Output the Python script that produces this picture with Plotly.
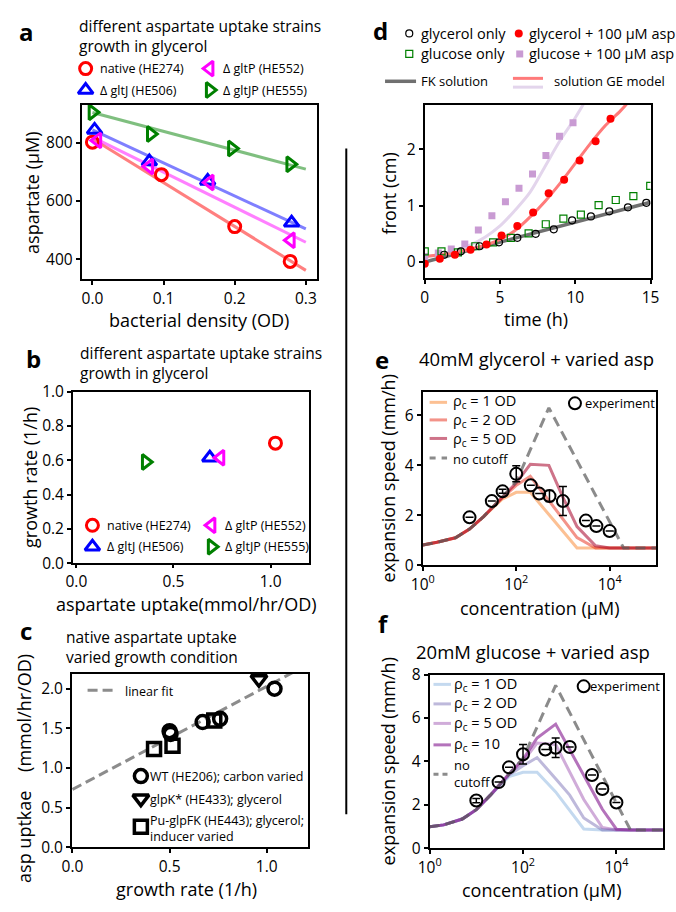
import plotly.graph_objects as go

W, H = 676, 912
FONT = "Open Sans"

# ---------------- panel a : aspartate vs OD ----------------
a_od_native = [0.0, 0.097, 0.200, 0.278]
a_asp_native = [803, 691, 512, 392]
a_od_gltJ = [0.003, 0.080, 0.162, 0.280]
a_asp_gltJ = [845, 736, 669, 525]
a_od_gltP = [0.007, 0.080, 0.165, 0.279]
a_asp_gltP = [809, 719, 664, 465]
a_od_gltJP = [0.0, 0.082, 0.196, 0.278]
a_asp_gltJP = [906, 831, 781, 727]
a_fit_od = [0.0, 0.3]
a_fit_native = [815, 361]
a_fit_gltJ = [845, 504]
a_fit_gltP = [820, 458]
a_fit_gltJP = [905, 710]

# ---------------- panel b : growth vs uptake ----------------
b_strains = ["native (HE274)", "Δ gltJ (HE506)", "Δ gltP (HE552)", "Δ gltJP (HE555)"]
b_uptake = [1.025, 0.687, 0.742, 0.357]
b_growth = [0.700, 0.615, 0.615, 0.590]

# ---------------- panel c : uptake vs growth rate ----------------
c_wt_mu = [0.50, 0.505, 0.67, 0.76, 1.04]
c_wt_up = [1.465, 1.43, 1.58, 1.62, 2.00]
c_glpk_mu = [0.96]
c_glpk_up = [2.12]
c_pu_mu = [0.42, 0.515, 0.73]
c_pu_up = [1.24, 1.28, 1.60]
c_fit_mu = [0.0, 1.25]
c_fit_up = [0.73, 2.355]

# ---------------- panel d : front vs time ----------------
d_gly_t = [1.29, 2.4, 3.64, 4.93, 6.15, 7.37, 8.57, 9.79, 11.04, 12.26, 13.5, 14.72]
d_gly_f = [0.13, 0.19, 0.28, 0.35, 0.43, 0.50, 0.58, 0.74, 0.81, 0.90, 0.97, 1.05]
d_glu_t = [0.0, 1.11, 2.2, 3.36, 4.54, 5.72, 6.9, 8.04, 9.21, 10.37, 11.55, 12.69, 13.86, 14.98]
d_glu_f = [0.19, 0.19, 0.17, 0.28, 0.35, 0.43, 0.51, 0.67, 0.77, 0.84, 1.01, 1.10, 1.17, 1.35]
d_glya_t = [0.0, 1.0, 2.0, 3.04, 4.1, 5.1, 6.15, 7.2, 8.23, 9.26, 10.29, 11.35, 12.34]
d_glya_f = [-0.03, 0.06, 0.13, 0.22, 0.31, 0.47, 0.64, 0.88, 1.22, 1.46, 1.80, 2.14, 2.54]
d_glua_t = [0.0, 0.9, 1.76, 2.66, 3.56, 4.46, 5.36, 6.26, 7.16, 8.05, 8.95, 9.85]
d_glua_f = [0.10, 0.16, 0.23, 0.32, 0.57, 0.82, 1.07, 1.31, 1.56, 1.89, 2.23, 2.47]
d_fk_t = [0, 5, 10, 15]
d_fk_f = [0.0, 0.35, 0.70, 1.06]
d_ge_gly_t = [0, 1, 2, 3, 4, 5, 6, 7, 8, 9, 10, 11, 12, 13, 13.6]
d_ge_gly_f = [0.10, 0.13, 0.17, 0.23, 0.30, 0.40, 0.56, 0.80, 1.08, 1.40, 1.75, 2.10, 2.42, 2.68, 2.86]
d_ge_glu_t = [0, 1, 2, 3, 4, 5, 6, 7, 8, 9, 10, 10.8]
d_ge_glu_f = [0.10, 0.13, 0.20, 0.30, 0.44, 0.64, 0.92, 1.24, 1.70, 2.16, 2.56, 2.92]

# ---------------- panel e : 40mM glycerol ----------------
e_conc = [1, 2, 5, 10, 20, 50, 100, 200, 500, 1000, 2000, 5000, 10000, 20000, 50000, 100000]
e_none = [0.81, 0.92, 1.10, 1.45, 1.95, 2.72, 3.35, 4.6, 6.3, 5.25, 4.2, 2.8, 1.75, 0.69, 0.69, 0.69]
e_rho1 = [0.81, 0.92, 1.10, 1.45, 1.95, 2.65, 2.92, 2.92, 2.03, 1.38, 0.69, 0.69, 0.69, 0.69, 0.69, 0.69]
e_rho2 = [0.81, 0.92, 1.10, 1.45, 1.95, 2.70, 3.20, 3.56, 2.59, 1.85, 1.11, 0.69, 0.69, 0.69, 0.69, 0.69]
e_rho5 = [0.81, 0.92, 1.10, 1.45, 1.95, 2.72, 3.30, 4.04, 4.00, 2.72, 1.55, 0.78, 0.69, 0.69, 0.69, 0.69]
e_exp_c = [10, 30, 51, 100, 205, 310, 515, 1000, 3100, 5200, 10000]
e_exp_v = [1.92, 2.57, 2.96, 3.66, 3.20, 2.87, 2.77, 2.57, 1.79, 1.57, 1.37]
e_exp_err = [0, 0, 0.08, 0.32, 0, 0, 0.22, 0.58, 0, 0, 0]

# ---------------- panel f : 20mM glucose ----------------
f_conc = [1, 2, 5, 10, 20, 50, 100, 200, 500, 1000, 2000, 5000, 10000, 20000, 50000, 100000]
f_none = [0.99, 1.08, 1.35, 1.78, 2.45, 3.42, 4.15, 5.59, 7.5, 6.25, 5.0, 3.34, 2.09, 0.84, 0.84, 0.84]
f_rho1 = [0.99, 1.08, 1.35, 1.78, 2.45, 3.30, 3.50, 3.50, 2.60, 1.72, 0.89, 0.84, 0.84, 0.84, 0.84, 0.84]
f_rho2 = [0.99, 1.08, 1.35, 1.78, 2.45, 3.38, 3.80, 4.18, 3.20, 2.45, 1.40, 0.84, 0.84, 0.84, 0.84, 0.84]
f_rho5 = [0.99, 1.08, 1.35, 1.78, 2.45, 3.42, 4.00, 4.85, 4.78, 3.55, 2.25, 0.96, 0.84, 0.84, 0.84, 0.84]
f_rho10 = [0.99, 1.08, 1.35, 1.78, 2.45, 3.42, 4.10, 5.08, 5.72, 4.55, 3.35, 1.80, 0.88, 0.84, 0.84, 0.84]
f_exp_c = [10, 30, 50, 100, 300, 500, 1000, 3000, 5000, 10000]
f_exp_v = [2.20, 3.05, 3.73, 4.33, 4.55, 4.63, 4.67, 3.38, 2.73, 2.11]
f_exp_err = [0.1, 0, 0, 0.45, 0, 0.45, 0, 0, 0, 0]

fig = go.Figure()

TICK = 15.5
LEG = 12.5
AXT = 18


def dom(x0, x1, y0, y1):
    return [x0 / W, x1 / W], [1 - y1 / H, 1 - y0 / H]


def axis(domain, rng, anchor, **kw):
    d = dict(domain=domain, range=rng, anchor=anchor, showline=True, mirror=True,
             linecolor="black", linewidth=2, ticks="outside", ticklen=4, tickwidth=2,
             tickcolor="black", showgrid=False, zeroline=False,
             tickfont=dict(family=FONT, size=TICK, color="black"))
    d.update(kw)
    return d


def sc(n, x, y, **kw):
    xa = "x" if n == 1 else "x%d" % n
    ya = "y" if n == 1 else "y%d" % n
    fig.add_trace(go.Scatter(x=x, y=y, xaxis=xa, yaxis=ya, showlegend=False,
                             hoverinfo="skip", **kw))


def mk(symbol, color, size, lw, fill=None):
    return dict(symbol=symbol, size=size, color=fill if fill else color,
                line=dict(color=color, width=lw))


# ---- panel a
for fy, col in [(a_fit_native, "rgba(255,0,0,0.5)"), (a_fit_gltP, "rgba(255,0,255,0.5)"),
                (a_fit_gltJ, "rgba(0,0,255,0.5)"), (a_fit_gltJP, "rgba(0,128,0,0.5)")]:
    sc(1, a_fit_od, fy, mode="lines", line=dict(color=col, width=3))
sc(1, a_od_native, a_asp_native, mode="markers", marker=mk("circle-open", "red", 12, 3))
sc(1, a_od_gltJ, a_asp_gltJ, mode="markers", marker=mk("triangle-up-open", "blue", 13, 3))
sc(1, a_od_gltP, a_asp_gltP, mode="markers", marker=mk("triangle-left-open", "magenta", 13, 3))
sc(1, a_od_gltJP, a_asp_gltJP, mode="markers", marker=mk("triangle-right-open", "green", 13, 3))

# ---- panel b
b_symbols = ["circle-open", "triangle-up-open", "triangle-left-open", "triangle-right-open"]
b_colors = ["red", "blue", "magenta", "green"]
for i in range(4):
    sc(2, [b_uptake[i]], [b_growth[i]], mode="markers",
       marker=mk(b_symbols[i], b_colors[i], 12 if i == 0 else 13, 3))

# ---- panel c
sc(3, c_fit_mu, c_fit_up, mode="lines", line=dict(color="#8c8c8c", width=3, dash="10px,5px"))
sc(3, c_wt_mu, c_wt_up, mode="markers", marker=mk("circle-open", "black", 13, 3.5))
sc(3, c_glpk_mu, c_glpk_up, mode="markers", marker=mk("triangle-down-open", "black", 14, 3.5))
sc(3, c_pu_mu, c_pu_up, mode="markers", marker=mk("square-open", "black", 13, 3.5))

# ---- panel d
sc(4, d_fk_t, d_fk_f, mode="lines", line=dict(color="#707070", width=3.5))
sc(4, d_ge_glu_t, d_ge_glu_f, mode="lines", line=dict(color="#e3d5ec", width=3), line_shape="spline")
sc(4, d_ge_gly_t, d_ge_gly_f, mode="lines", line=dict(color="#ff7a7a", width=3), line_shape="spline")
sc(4, d_glua_t, d_glua_f, mode="markers", marker=mk("square", "#c99bd3", 7, 0))
sc(4, d_glu_t, d_glu_f, mode="markers", marker=mk("square-open", "green", 7, 1.2))
sc(4, d_gly_t, d_gly_f, mode="markers", marker=mk("circle-open", "black", 7, 1.2))
sc(4, d_glya_t, d_glya_f, mode="markers", marker=mk("circle", "red", 8, 0))

# ---- panel e
sc(5, e_conc, e_rho1, mode="lines", line=dict(color="rgba(250,130,40,0.5)", width=3))
sc(5, e_conc, e_rho2, mode="lines", line=dict(color="rgba(231,40,20,0.5)", width=3))
sc(5, e_conc, e_rho5, mode="lines", line=dict(color="rgba(165,0,40,0.55)", width=3))
sc(5, e_conc, e_none, mode="lines", line=dict(color="rgba(90,90,90,0.7)", width=3, dash="10px,6px"))
sc(5, e_exp_c, e_exp_v, mode="markers", marker=mk("circle-open", "black", 12, 2),
   error_y=dict(type="data", array=e_exp_err, visible=True, color="black", thickness=1.5, width=4))

# ---- panel f
sc(6, f_conc, f_rho1, mode="lines", line=dict(color="rgba(107,160,214,0.4)", width=3))
sc(6, f_conc, f_rho2, mode="lines", line=dict(color="rgba(110,100,175,0.45)", width=3))
sc(6, f_conc, f_rho5, mode="lines", line=dict(color="rgba(150,70,170,0.45)", width=3))
sc(6, f_conc, f_rho10, mode="lines", line=dict(color="rgba(140,40,150,0.65)", width=3))
sc(6, f_conc, f_none, mode="lines", line=dict(color="rgba(90,90,90,0.7)", width=3, dash="10px,6px"))
sc(6, f_exp_c, f_exp_v, mode="markers", marker=mk("circle-open", "black", 12, 2),
   error_y=dict(type="data", array=f_exp_err, visible=True, color="black", thickness=1.5, width=4))


# ---- legend glyphs on an invisible full-page overlay axis (pixel coords)
def glyph(x, y, marker):
    fig.add_trace(go.Scatter(x=[x], y=[y], xaxis="x7", yaxis="y7", mode="markers",
                             marker=marker, showlegend=False, hoverinfo="skip"))


def gline(x0, x1, y, color, width, dash=None):
    fig.add_trace(go.Scatter(x=[x0, x1], y=[y, y], xaxis="x7", yaxis="y7", mode="lines",
                             line=dict(color=color, width=width, dash=dash),
                             showlegend=False, hoverinfo="skip"))


def txt(x, y, s, size=LEG, xanchor="left", angle=0, bold=False):
    if bold:
        s = "<b>%s</b>" % s
    fig.add_annotation(x=x / W, y=1 - y / H, xref="paper", yref="paper", text=s,
                       showarrow=False, xanchor=xanchor, yanchor="middle", textangle=angle,
                       align="left" if xanchor == "left" else "center",
                       borderpad=0, borderwidth=0,
                       font=dict(family=FONT, size=size, color="black"))


# panel a legend
glyph(76, 58, mk("circle-open", "red", 12, 3)); txt(91, 58, b_strains[0])
glyph(204, 58, mk("triangle-left-open", "magenta", 13, 3)); txt(218, 58, b_strains[2])
glyph(76, 80, mk("triangle-up-open", "blue", 13, 3)); txt(91, 80, b_strains[1])
glyph(204, 80, mk("triangle-right-open", "green", 13, 3)); txt(218, 80, b_strains[3])
# panel b legend
glyph(83, 526, mk("circle-open", "red", 12, 3)); txt(98, 526, b_strains[0])
glyph(206, 526, mk("triangle-left-open", "magenta", 13, 3)); txt(220, 526, b_strains[2])
glyph(83, 548, mk("triangle-up-open", "blue", 13, 3)); txt(98, 548, b_strains[1])
glyph(206, 548, mk("triangle-right-open", "green", 13, 3)); txt(220, 548, b_strains[3])
# panel c legend
gline(78, 107, 695, "#8c8c8c", 3, "10px,5px"); txt(117, 696, "linear fit")
glyph(133, 783, mk("circle-open", "black", 13, 3.5)); txt(142, 783, "WT (HE206); carbon varied")
glyph(133, 806, mk("triangle-down-open", "black", 14, 3.5)); txt(142, 807, "glpK* (HE433); glycerol")
glyph(133, 835, mk("square-open", "black", 13, 3.5))
txt(142, 837, "Pu-glpFK (HE443); glycerol;<br>inducer varied")
# panel d legend
glyph(410, 22, mk("circle-open", "black", 7, 1.2)); txt(422, 22, "glycerol only", 14.5)
glyph(523, 22, mk("circle", "red", 8, 0)); txt(534, 22, "glycerol + 100 μM asp", 14.5)
glyph(410, 43, mk("square-open", "green", 7, 1.2)); txt(422, 43, "glucose only", 14.5)
glyph(524, 43, mk("square", "#c99bd3", 7, 0)); txt(534, 43, "glucose + 100 μM asp", 14.5)
gline(385, 417, 71, "#707070", 3.5); txt(422, 71, "FK solution", 13)
gline(517, 548, 68, "#ff7a7a", 3); gline(517, 548, 77, "#e3d5ec", 3); txt(559, 71, "solution GE model", 13)
# panel e legend
gline(431, 449, 400, "rgba(250,130,40,0.5)", 3)
gline(431, 449, 418, "rgba(231,40,20,0.5)", 3)
gline(431, 449, 437, "rgba(165,0,40,0.55)", 3)
txt(455, 419, "ρ<sub>c</sub> = 1 OD<br>ρ<sub>c</sub> = 2 OD<br>ρ<sub>c</sub> = 5 OD", 14.5)
gline(431, 449, 457, "rgba(90,90,90,0.7)", 3, "6px,6px"); txt(455, 458, "no cutoff", 13)
glyph(581, 401, mk("circle-open", "black", 12, 2)); txt(591, 401, "experiment", 13)
# panel f legend
gline(435, 453, 689, "rgba(107,160,214,0.4)", 3); txt(456, 689, "ρ<sub>c</sub> = 1 OD", 14.5)
gline(435, 453, 709, "rgba(110,100,175,0.45)", 3); txt(456, 709, "ρ<sub>c</sub> = 2 OD", 14.5)
gline(435, 453, 729, "rgba(150,70,170,0.45)", 3); txt(456, 729, "ρ<sub>c</sub> = 5 OD", 14.5)
gline(435, 453, 751, "rgba(140,40,150,0.65)", 3); txt(456, 751, "ρ<sub>c</sub> = 10", 14.5)
gline(435, 453, 781, "rgba(90,90,90,0.7)", 3, "5px,4px")
txt(456, 780, "no<br>cutoff", 13)
glyph(590, 691, mk("circle-open", "black", 12, 2)); txt(597, 691, "experiment", 13)

# ---- panel letters and titles
txt(15, 20, "a", 24, "center", bold=True)
txt(22, 355, "b", 24, "center", bold=True)
txt(14, 634, "c", 24, "center", bold=True)
txt(380, 19, "d", 24, "center", bold=True)
txt(382, 356, "e", 24, "center", bold=True)
txt(383, 627, "f", 24, "center", bold=True)

txt(69, 25, "different aspartate uptake strains<br>growth in glycerol", 15.5)
txt(70, 360, "different aspartate uptake strains<br>growth in glycerol", 15.5)
txt(56, 651, "native aspartate uptake<br>varied growth condition", 15.5)
txt(541, 355, "40mM glycerol + varied asp", 18.5, "center")
txt(538, 655, "20mM glucose + varied asp", 18.5, "center")

# ---- axis titles
txt(193, 316, "bacterial density (OD)", AXT, "center")
txt(20, 185, "aspartate (μM)", AXT, "center", angle=-90)
txt(180, 607, "aspartate uptake(mmol/hr/OD)", AXT, "center")
txt(19, 477, "growth rate (1/h)", AXT, "center", angle=-90)
txt(180, 899, "growth rate (1/h)", AXT, "center")
txt(13, 775, "asp uptkae    (mmol/hr/OD)", AXT, "center", angle=-90)
txt(541, 315, "time (h)", AXT, "center")
txt(389, 186, "front (cm)", AXT, "center", angle=-90)
txt(544, 611, "concentration (μM)", AXT, "center")
txt(389, 478, "expansion speed (mm/h)", AXT, "center", angle=-90)
txt(546, 900, "concentration (μM)", AXT, "center")
txt(389, 768, "expansion speed (mm/h)", AXT, "center", angle=-90)

# ---- divider
fig.add_shape(type="line", xref="paper", yref="paper", x0=345 / W, x1=345 / W,
              y0=1 - 140 / H, y1=1 - 822 / H, line=dict(color="black", width=2))

# ---- axes layout
logt = dict(type="log", tickvals=[1, 100, 10000],
            ticktext=["10<sup>0</sup>", "10<sup>2</sup>", "10<sup>4</sup>"])
xa, ya = dom(72, 315, 95, 274)
xb, yb = dom(63, 307, 389, 565)
xc, yc = dom(62, 305, 678, 856)
xd, yd = dom(426, 659, 95, 273)
xe, ye = dom(424, 665, 389, 567)
xf, yf = dom(431, 672, 679, 857)

fig.update_layout(
    width=W, height=H, margin=dict(l=0, r=0, t=0, b=0),
    paper_bgcolor="white", plot_bgcolor="rgba(0,0,0,0)", showlegend=False,
    font=dict(family=FONT, color="black"),
    xaxis=axis(xa, [-0.015, 0.316], "y", tickvals=[0, 0.1, 0.2, 0.3], tickformat=".1f"),
    yaxis=axis(ya, [330, 932], "x", tickvals=[400, 600, 800]),
    xaxis2=axis(xb, [-0.017, 1.2], "y2", tickvals=[0, 0.5, 1.0], tickformat=".1f", ticklen=3),
    yaxis2=axis(yb, [0, 1.0], "x2", tickvals=[0, 0.2, 0.4, 0.6, 0.8, 1.0], tickformat=".1f"),
    xaxis3=axis(xc, [-0.002, 1.21], "y3", tickvals=[0, 0.5, 1.0], tickformat=".1f"),
    yaxis3=axis(yc, [0, 2.19], "x3", tickvals=[0, 0.5, 1.0, 1.5, 2.0], tickformat=".1f"),
    xaxis4=axis(xd, [0, 15], "y4", tickvals=[0, 5, 10, 15]),
    yaxis4=axis(yd, [-0.29, 2.79], "x4", tickvals=[0, 1, 2]),
    xaxis5=axis(xe, [0, 5], "y5", **logt),
    yaxis5=axis(ye, [0, 6.95], "x5", tickvals=[0, 2, 4, 6]),
    xaxis6=axis(xf, [0, 5], "y6", **logt),
    yaxis6=axis(yf, [0, 8], "x6", tickvals=[0, 2, 4, 6, 8]),
    xaxis7=dict(domain=[0, 1], range=[0, W], visible=False, anchor="y7", fixedrange=True),
    yaxis7=dict(domain=[0, 1], range=[H, 0], visible=False, anchor="x7", fixedrange=True),
)

fig.write_html("out.html")
